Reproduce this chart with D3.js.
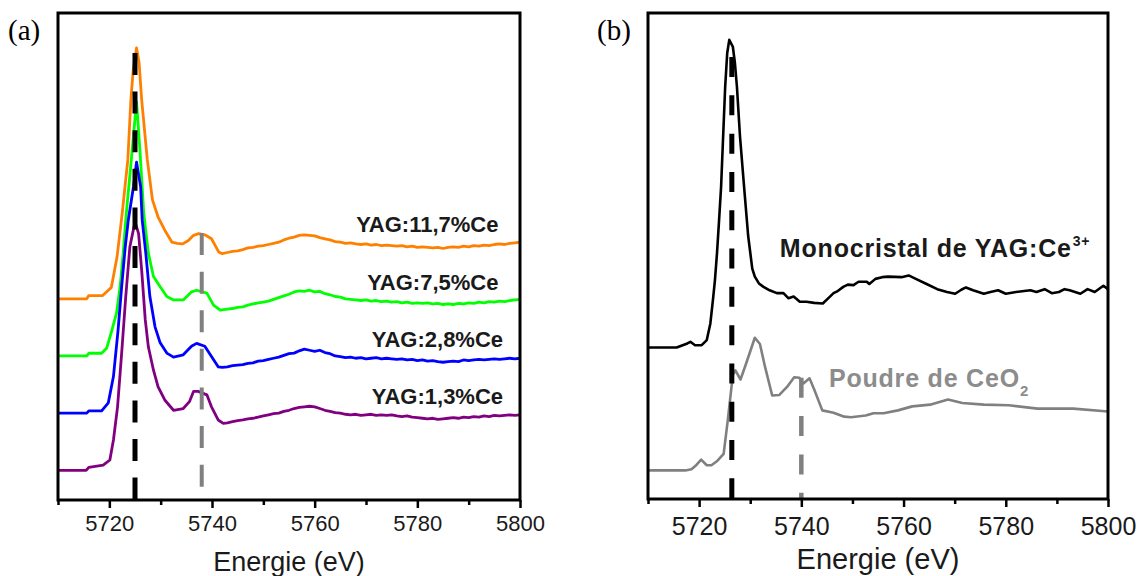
<!DOCTYPE html>
<html>
<head>
<meta charset="utf-8">
<script src="https://cdn.jsdelivr.net/npm/d3@7"></script>
<style>
  html, body { margin: 0; padding: 0; background: #fff; }
  svg { display: block; }
</style>
</head>
<body>
<svg id="chart" width="1139" height="576"></svg>
<script>
// ---------------- DATA ----------------
const majorTicks = [5720, 5740, 5760, 5780, 5800];
const minorTicks = [5710, 5730, 5750, 5770, 5790];
const xLabel = "Energie (eV)";
const panelLabels = ["(a)", "(b)"];

// Panel (a): normalized Ce L3-edge XANES (energy eV, normalized absorbance)
const seriesNamesA = ["YAG:11,7%Ce", "YAG:7,5%Ce", "YAG:2,8%Ce", "YAG:1,3%Ce"];
const seriesColorsA = ["#ff8000", "#00ff00", "#0000ff", "#800080"];
const seriesOffsetsA = [3, 2, 1, 0];

const yag117 = [[5710,0],[5715.6,0],[5716,0.056],[5718.7,0.056],[5719.7,0.14],[5720.4,0.2],[5721.5,0.73],[5722.5,1.49],[5723.6,2.43],[5724.2,3.48],[5724.7,4.06],[5725.3,4.39],[5725.8,4.13],[5726.3,3.48],[5727.4,2.43],[5728.4,1.73],[5729.5,1.43],[5730.8,1.2],[5732.2,0.99],[5733.2,0.97],[5734.3,0.96],[5735.4,1.02],[5736.4,1.11],[5737.4,1.14],[5738.6,1.12],[5739.9,1.05],[5741.3,0.82],[5742,0.79],[5743,0.81],[5744,0.83],[5745,0.84],[5746,0.86],[5747,0.89],[5748,0.9],[5749,0.92],[5750,0.93],[5751,0.95],[5752,0.97],[5753,0.99],[5754,1.03],[5755,1.06],[5756,1.08],[5757,1.11],[5758,1.12],[5759,1.11],[5760,1.1],[5761,1.07],[5762,1.05],[5763,1.03],[5764,1.0],[5765,0.99],[5766,0.97],[5767,0.98],[5768,0.96],[5769,0.95],[5770,0.96],[5771,0.94],[5772,0.95],[5773,0.93],[5774,0.94],[5775,0.93],[5776,0.92],[5777,0.93],[5778,0.91],[5779,0.92],[5780,0.9],[5781,0.91],[5782,0.9],[5783,0.89],[5784,0.9],[5785,0.88],[5786,0.9],[5787,0.91],[5788,0.9],[5789,0.92],[5790,0.91],[5791,0.93],[5792,0.92],[5793,0.94],[5794,0.93],[5795,0.95],[5796,0.96],[5797,0.95],[5798,0.97],[5799,0.98],[5800,0.99]];

const yag75 = [[5710,0],[5715.6,0],[5716,0.047],[5718.5,0.047],[5719.5,0.14],[5720.5,0.45],[5721.4,0.75],[5722.1,1.21],[5722.7,1.8],[5723.2,2.38],[5723.5,2.68],[5724.4,3.55],[5725.3,4.45],[5726,3.55],[5726.7,2.5],[5727.6,1.8],[5728.6,1.39],[5729.9,1.21],[5731.2,1.04],[5732.5,0.98],[5734.4,0.98],[5736,1.12],[5737,1.15],[5739,1.1],[5740.3,0.89],[5741.6,0.8],[5743,0.82],[5744,0.83],[5745,0.85],[5746,0.86],[5747,0.89],[5748,0.91],[5749,0.93],[5750,0.94],[5751,0.96],[5752,0.99],[5753,1.02],[5754,1.05],[5755,1.08],[5756,1.12],[5757,1.14],[5758,1.13],[5759,1.15],[5760,1.12],[5761,1.13],[5762,1.09],[5763,1.07],[5764,1.04],[5765,1.03],[5766,1.0],[5767,0.99],[5768,0.98],[5769,0.97],[5770,0.98],[5771,0.96],[5772,0.97],[5773,0.95],[5774,0.96],[5775,0.94],[5776,0.95],[5777,0.93],[5778,0.94],[5779,0.92],[5780,0.93],[5781,0.92],[5782,0.93],[5783,0.91],[5784,0.92],[5785,0.9],[5786,0.91],[5787,0.9],[5788,0.92],[5789,0.91],[5790,0.93],[5791,0.92],[5792,0.94],[5793,0.93],[5794,0.95],[5795,0.94],[5796,0.96],[5797,0.95],[5798,0.97],[5799,0.98],[5800,0.99]];

const yag28 = [[5710,0],[5715.6,0],[5716,0.04],[5718.5,0.04],[5719.8,0.18],[5720.8,0.64],[5721.7,1.45],[5722.4,2.21],[5723.1,2.91],[5723.7,3.38],[5724.7,3.96],[5725.3,4.39],[5726.1,3.96],[5726.4,3.38],[5727.1,2.8],[5727.9,2.04],[5728.9,1.51],[5729.9,1.23],[5731.2,1.05],[5732.5,0.98],[5734.4,1.02],[5736,1.17],[5737,1.22],[5738.6,1.17],[5739.9,0.99],[5741.2,0.81],[5742,0.8],[5743,0.81],[5744,0.83],[5745,0.84],[5746,0.85],[5747,0.87],[5748,0.88],[5749,0.91],[5750,0.92],[5751,0.94],[5752,0.96],[5753,0.98],[5754,1.01],[5755,1.04],[5756,1.05],[5757,1.09],[5758,1.12],[5759,1.1],[5760,1.08],[5761,1.1],[5762,1.06],[5763,1.04],[5764,1.0],[5765,0.99],[5766,0.97],[5767,0.98],[5768,0.96],[5769,0.97],[5770,0.95],[5771,0.96],[5772,0.97],[5773,0.95],[5774,0.96],[5775,0.95],[5776,0.94],[5777,0.95],[5778,0.93],[5779,0.94],[5780,0.92],[5781,0.93],[5782,0.91],[5783,0.92],[5784,0.9],[5785,0.89],[5786,0.9],[5787,0.91],[5788,0.9],[5789,0.93],[5790,0.92],[5791,0.93],[5792,0.94],[5793,0.93],[5794,0.94],[5795,0.95],[5796,0.94],[5797,0.95],[5798,0.96],[5799,0.95],[5800,0.96]];

const yag13 = [[5710,0],[5715.5,0],[5716,0.05],[5718.8,0.09],[5720.1,0.18],[5720.8,0.53],[5721.6,1.11],[5722.4,2.05],[5723.2,3.04],[5724,3.91],[5724.8,4.26],[5725.2,4.29],[5725.7,4.14],[5726.3,3.5],[5727,2.63],[5727.6,2.16],[5728.6,1.75],[5729.5,1.46],[5730.8,1.23],[5732.5,1.05],[5734.4,1.08],[5735.6,1.2],[5736.4,1.38],[5737.3,1.38],[5739,1.32],[5739.9,1.11],[5741.2,0.88],[5742.2,0.82],[5743,0.83],[5744,0.85],[5745,0.87],[5746,0.88],[5747,0.9],[5748,0.91],[5749,0.93],[5750,0.95],[5751,0.97],[5752,0.99],[5753,1.0],[5754,1.03],[5755,1.05],[5756,1.08],[5757,1.1],[5758,1.11],[5759,1.12],[5760,1.11],[5761,1.08],[5762,1.05],[5763,1.03],[5764,1.01],[5765,1.0],[5766,0.98],[5767,0.97],[5768,0.98],[5769,0.96],[5770,0.97],[5771,0.98],[5772,0.96],[5773,0.97],[5774,0.96],[5775,0.97],[5776,0.95],[5777,0.94],[5778,0.95],[5779,0.93],[5780,0.92],[5781,0.91],[5782,0.9],[5783,0.91],[5784,0.89],[5785,0.9],[5786,0.91],[5787,0.92],[5788,0.91],[5789,0.93],[5790,0.92],[5791,0.94],[5792,0.93],[5793,0.95],[5794,0.94],[5795,0.96],[5796,0.95],[5797,0.96],[5798,0.97],[5799,0.96],[5800,0.97]];

// reference energies (dashed markers) panel (a)
const markersA = [5725, 5738];

// Panel (b)
const seriesNamesB = ["Monocristal de YAG:Ce", "Poudre de CeO"];
const seriesColorsB = ["#000000", "#808080"];
const seriesOffsetsB = [2.15, 0];

const monocristal = [[5710,0],[5714.6,0],[5715.6,0],[5717.7,0.07],[5718.3,0.1],[5719.2,0.04],[5720.5,0.04],[5721.5,0.13],[5722.2,0.42],[5722.7,0.83],[5723.1,1.18],[5723.5,1.65],[5723.9,2.22],[5724.3,2.81],[5724.7,3.69],[5725.1,4.56],[5725.5,5.15],[5725.9,5.38],[5726.6,5.26],[5727,4.98],[5727.4,4.56],[5728,3.69],[5728.8,2.81],[5729.6,1.95],[5730.4,1.38],[5730.9,1.24],[5731.7,1.12],[5732.6,1.06],[5733.8,1.0],[5735.2,0.95],[5736.5,0.95],[5737.5,0.86],[5738.5,0.89],[5739.7,0.8],[5741,0.8],[5742.5,0.78],[5744.2,0.77],[5745.6,0.89],[5746.3,0.95],[5747,0.98],[5748.2,1.06],[5749.1,1.1],[5750.2,1.09],[5751.2,1.15],[5752.8,1.15],[5753.3,1.11],[5754.5,1.2],[5755.8,1.23],[5757,1.24],[5759.6,1.23],[5761,1.26],[5762.4,1.2],[5764.5,1.11],[5766.6,1.02],[5768.5,0.97],[5770.1,0.94],[5771.3,1.01],[5772.2,1.05],[5773.6,1.0],[5775.7,0.94],[5777,0.97],[5778.5,1.0],[5780,0.94],[5782,0.97],[5784.8,1.0],[5786,0.97],[5787.6,1.02],[5789,0.95],[5790.4,0.97],[5791.5,1.02],[5792.5,1.0],[5794.6,0.94],[5796,1.02],[5797.4,0.97],[5799.1,1.08],[5800,1.02]];

const ceo2 = [[5710,0],[5717.3,0],[5718.5,0.02],[5719.3,0.08],[5720.4,0.19],[5721.5,0.09],[5722.4,0.09],[5723.6,0.17],[5724.8,0.29],[5725.6,0.87],[5726.6,1.67],[5727.1,1.75],[5728.1,1.59],[5729.2,1.87],[5730.9,2.32],[5731.9,2.21],[5732.9,1.81],[5734.3,1.31],[5735.7,1.32],[5737.2,1.46],[5738.6,1.63],[5739.6,1.62],[5740.4,1.52],[5741.6,1.61],[5742.5,1.42],[5744.1,1.05],[5746.3,1.01],[5748.4,0.94],[5749.7,0.93],[5752.6,0.96],[5754.1,1.0],[5756.1,1.0],[5758.9,1.05],[5761.7,1.12],[5765.2,1.15],[5768.7,1.24],[5771.5,1.18],[5775.7,1.15],[5780.6,1.14],[5786.2,1.08],[5793.2,1.08],[5800,1.03]];

const markersB = [5726.4, 5740];

// ---------------- DRAW ----------------
const svg = d3.select("#chart");
const FONT = '"Liberation Sans", Arial, sans-serif';
const SERIF = '"Liberation Serif", "Times New Roman", serif';

function drawPanel(cfg) {
  const x = d3.scaleLinear().domain([5710, 5800]).range([cfg.left, cfg.right]);
  const y = d3.scaleLinear().domain(cfg.yDomain).range([cfg.bottom, cfg.top]);
  const g = svg.append("g");

  // curves
  cfg.series.forEach((s, i) => {
    const line = d3.line()
      .x(d => x(d[0]))
      .y(d => y(d[1] + cfg.offsets[i]));
    g.append("path")
      .datum(s)
      .attr("d", line)
      .attr("fill", "none")
      .attr("stroke", cfg.colors[i])
      .attr("stroke-width", cfg.lineWidth)
      .attr("stroke-linejoin", "round");
  });

  // dashed markers
  cfg.markers.forEach((m, i) => {
    g.append("line")
      .attr("x1", x(m)).attr("x2", x(m))
      .attr("y1", y(cfg.markerTops[i])).attr("y2", cfg.bottom)
      .attr("stroke", cfg.markerColors[i])
      .attr("stroke-width", cfg.markerWidths[i])
      .attr("stroke-dasharray", cfg.dash);
  });

  // frame
  g.append("rect")
    .attr("x", cfg.left).attr("y", cfg.top)
    .attr("width", cfg.right - cfg.left).attr("height", cfg.bottom - cfg.top)
    .attr("fill", "none").attr("stroke", "#000").attr("stroke-width", 3);

  // axes
  const minor = d3.axisBottom(x).tickValues(minorTicks).tickSize(5).tickFormat("");
  const major = d3.axisBottom(x).tickValues(majorTicks).tickSize(8).tickFormat(d3.format("d"));
  const gm = g.append("g").attr("transform", `translate(0,${cfg.bottom})`).call(minor);
  const gM = g.append("g").attr("transform", `translate(0,${cfg.bottom})`).call(major);
  [gm, gM].forEach(a => {
    a.select(".domain").remove();
    a.selectAll(".tick line").attr("stroke", "#000").attr("stroke-width", 2.5);
  });
  gM.selectAll(".tick text")
    .attr("y", cfg.tickLabelY).attr("dy", 0)
    .style("font-family", FONT).style("font-size", cfg.tickFont + "px").attr("fill", "#1a1a1a");

  // axis title
  g.append("text")
    .attr("x", (cfg.left + cfg.right) / 2).attr("y", cfg.titleY)
    .attr("text-anchor", "middle")
    .style("font-family", FONT).style("font-size", cfg.titleFont + "px").attr("fill", "#1a1a1a")
    .text(xLabel);

  // panel letter
  g.append("text")
    .attr("x", cfg.letterX).attr("y", 40)
    .style("font-family", SERIF)
    .style("font-size", "29px").attr("fill", "#000")
    .text(cfg.letter);

  return { x, y, g };
}

// Panel (a)
const pa = drawPanel({
  left: 58, right: 520, top: 13, bottom: 500,
  yDomain: [-0.52, 8],
  series: [yag117, yag75, yag28, yag13],
  colors: seriesColorsA, offsets: seriesOffsetsA, lineWidth: 2.8,
  markers: markersA, markerTops: [7.3, 4.15], markerColors: ["#000", "#808080"], markerWidths: [5, 4],
  dash: "22,16.6",
  tickLabelY: 31, tickFont: 22, titleY: 571, titleFont: 27,
  letter: panelLabels[0], letterX: 8
});

seriesNamesA.forEach((name, i) => {
  const xr = i < 2 ? 5795.8 : 5796.7;
  pa.g.append("text")
    .attr("x", pa.x(xr)).attr("y", pa.y(seriesOffsetsA[i] + 1.16))
    .attr("text-anchor", "end")
    .style("font-family", FONT).style("font-weight", "bold").style("font-size", "22px")
    .attr("fill", "#1a1a1a")
    .text(name);
});

// Panel (b)
const pb = drawPanel({
  left: 648, right: 1108, top: 13, bottom: 499,
  yDomain: [-0.5, 8],
  series: [monocristal, ceo2],
  colors: seriesColorsB, offsets: seriesOffsetsB, lineWidth: 2.6,
  markers: markersB, markerTops: [7.23, 1.62], markerColors: ["#000", "#808080"], markerWidths: [5, 4.5],
  dash: "20,18.3",
  tickLabelY: 36, tickFont: 25, titleY: 569, titleFont: 29,
  letter: panelLabels[1], letterX: 597
});

// Monocristal label with superscript
const t1 = pb.g.append("text")
  .attr("x", pb.x(5735.8)).attr("y", pb.y(3.73))
  .style("font-family", FONT).style("font-weight", "bold").style("font-size", "25px")
  .style("letter-spacing", "0.8px").attr("fill", "#1a1a1a");
t1.append("tspan").text(seriesNamesB[0]);
t1.append("tspan").style("font-size", "14px").attr("dy", -11).attr("dx", 1).text("3+");

// CeO2 label with subscript
const t2 = pb.g.append("text")
  .attr("x", pb.x(5745.4)).attr("y", pb.y(1.46))
  .style("font-family", FONT).style("font-weight", "bold").style("font-size", "25px")
  .style("letter-spacing", "0.8px").attr("fill", "#8c8c8c");
t2.append("tspan").text(seriesNamesB[1]);
t2.append("tspan").style("font-size", "15px").attr("dy", 9).text("2");
</script>
</body>
</html>
